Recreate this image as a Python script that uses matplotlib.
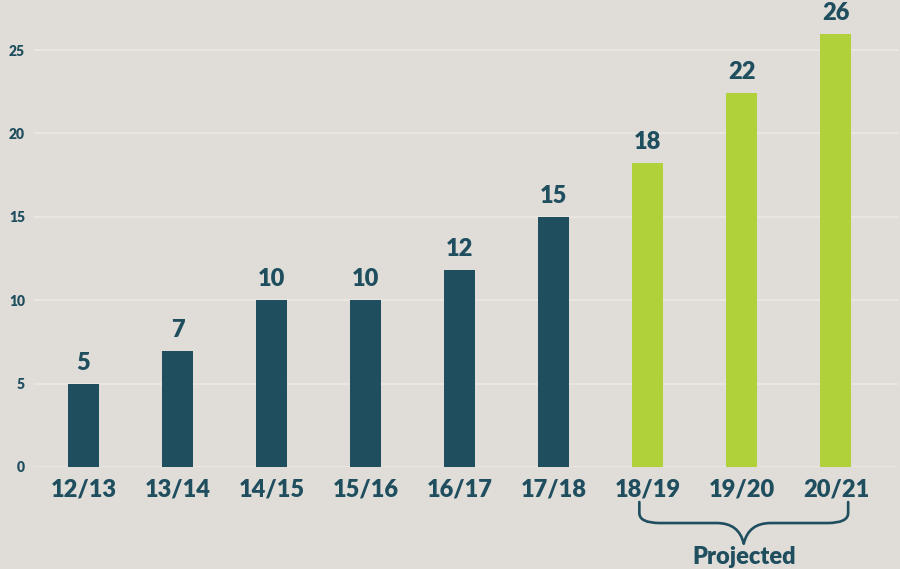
import matplotlib
matplotlib.use("Agg")
import matplotlib.pyplot as plt
from matplotlib.path import Path
from matplotlib.patches import PathPatch

seasons = ["12/13", "13/14", "14/15", "15/16", "16/17", "17/18", "18/19", "19/20", "20/21"]
values = [5.0, 6.95, 10.0, 10.0, 11.8, 15.0, 18.2, 22.4, 25.95]
labels = ["5", "7", "10", "10", "12", "15", "18", "22", "26"]
projected = [False, False, False, False, False, False, True, True, True]
yticks = [0, 5, 10, 15, 20, 25]

BG = "#e0ddd8"
TEAL = "#1f4e5f"
GREEN = "#b1d13a"
GRID = "#ebe9e5"
W = "heavy"

plt.rcParams["font.family"] = ["Lato", "DejaVu Sans"]

fig = plt.figure(figsize=(9, 5.69), dpi=100, facecolor=BG)
ax = fig.add_axes([34 / 900, 1 - 467 / 569, 864 / 900, 467 / 569])
ax.set_facecolor(BG)

x = list(range(len(seasons)))
colors = [GREEN if p else TEAL for p in projected]
ax.bar(x, values, width=0.33, color=colors, zorder=2)

for xi, v, lab in zip(x, values, labels):
    ax.text(xi, v + 0.6, lab, ha="center", va="bottom", fontsize=17,
            fontweight=W, color=TEAL)

ax.set_ylim(0, 28)
ax.set_xlim(-0.526, 8.66)
ax.set_yticks(yticks)
ax.set_yticklabels([str(t) for t in yticks], fontsize=10, fontweight=W, color=TEAL)
ax.set_xticks(x)
ax.set_xticklabels(seasons, fontsize=17, fontweight=W, color=TEAL)
ax.tick_params(axis="both", length=0)
ax.tick_params(axis="x", pad=8)
ax.tick_params(axis="y", pad=6.5)
ax.grid(axis="y", color=GRID, linewidth=1.2, zorder=0)
for s in ax.spines.values():
    s.set_visible(False)

# curly brace under the projected seasons
x0, x1 = 5.91, 8.13
xm = (x0 + x1) / 2
yt, yh, yb = -2.1, -3.36, -4.6
r = 0.22
verts = [
    (x0, yt), (x0, yh + 0.6),
    (x0, yh), (x0 + r, yh),
    (xm - r * 1.3, yh),
    (xm - 0.05, yh), (xm, yb),
    (xm + 0.05, yh), (xm + r * 1.3, yh),
    (x1 - r, yh),
    (x1, yh), (x1, yh + 0.6),
    (x1, yt),
]
codes = [
    Path.MOVETO, Path.LINETO,
    Path.CURVE3, Path.CURVE3,
    Path.LINETO,
    Path.CURVE3, Path.CURVE3,
    Path.CURVE3, Path.CURVE3,
    Path.LINETO,
    Path.CURVE3, Path.CURVE3,
    Path.LINETO,
]
ax.add_patch(PathPatch(Path(verts, codes), facecolor="none", edgecolor=TEAL,
                       linewidth=1.9, clip_on=False, capstyle="round", joinstyle="round"))
ax.text(xm, -5.4, "Projected", ha="center", va="center", fontsize=17,
        fontweight=W, color=TEAL, clip_on=False)

fig.savefig("out.png", dpi=100, facecolor=BG)
